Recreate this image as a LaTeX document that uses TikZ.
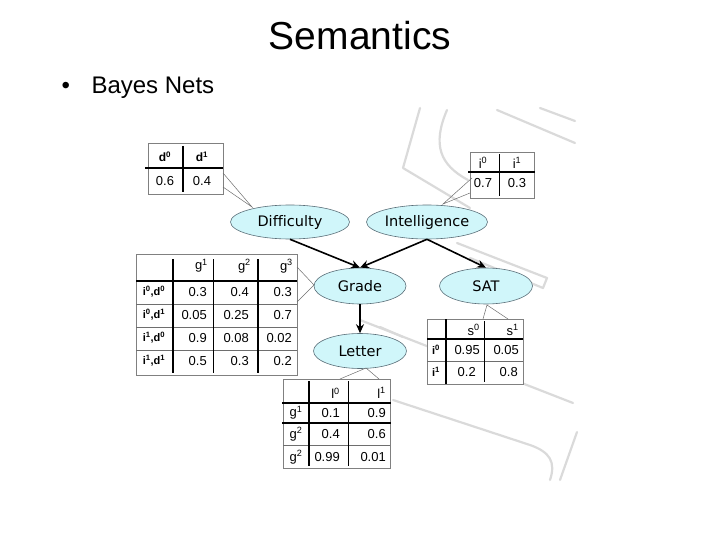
\documentclass[tikz,border=0pt]{standalone}
\usepackage{fontspec}
\setmainfont{Liberation Sans}
\newfontfamily\varfont[Ligatures=NoCommon]{DejaVu Sans}
\usetikzlibrary{shapes.geometric,arrows.meta}

\definecolor{varfill}{RGB}{208,246,250}
\definecolor{varline}{RGB}{90,110,120}
\definecolor{framegray}{RGB}{128,128,128}
\definecolor{rulegray}{RGB}{110,110,110}
\definecolor{wmgray}{RGB}{218,218,218}

\tikzset{
  var/.style={ellipse, draw=varline, line width=0.6pt, fill=varfill, inner sep=0pt,
    minimum width=119pt, minimum height=34pt, font=\varfont\fontsize{14.5}{16}\selectfont},
  dep/.style={line width=1.6pt, -{Stealth[length=9pt,width=8pt,inset=3pt]}},
  tframe/.style={draw=framegray, line width=0.7pt, fill=white},
  bar/.style={line width=1.8pt},
  thinrule/.style={draw=rulegray, line width=0.6pt},
  callout/.style={draw=rulegray, line width=0.5pt},
  cell/.style={font=\fontsize{13}{15}\selectfont, inner sep=0pt},
  rowlab/.style={font=\bfseries\fontsize{11}{13}\selectfont, inner sep=0pt},
  wm/.style={draw=wmgray, line width=2.2pt, line cap=round, line join=round},
}

\begin{document}
\begin{tikzpicture}[x=1pt,y=1pt,yscale=-1]
\useasboundingbox (0,0) rectangle (720,540);

% background watermark
\draw[wm] (420,108) -- (403,168) -- (470,208);
\draw[wm] (447,110) .. controls (432,145) and (440,165) .. (468,180);
\draw[wm] (497,110) -- (575,143);
\draw[wm] (540,108) -- (575,121);
\draw[wm] (457,243) -- (547,278) -- (543,288) -- (470,258);
\draw[wm] (380,327) -- (403,337);
\draw[wm] (360,320) -- (573,403);
\draw[wm] (393,400) -- (530,445) .. controls (550,452) and (556,462) .. (550,480);
\draw[wm] (577,432) -- (560,480);

% title
\node[font=\fontsize{39}{44}\selectfont, anchor=base] (title) at (360,50) {Semantics};
\node[font=\fontsize{24}{28}\selectfont, anchor=base west] (bullet) at (58,94) {•};
\node[font=\fontsize{24}{28}\selectfont, anchor=base west] (bayes) at (88,94) {Bayes Nets};

% variables
\node[var] (diff) at (290,222) {Difficulty};
\node[var, minimum width=121pt] (intel) at (427,222) {Intelligence};
\node[var, minimum width=92pt, minimum height=36pt] (grade) at (360,286) {Grade};
\node[var, minimum width=93pt, minimum height=36pt] (sat) at (486,286) {SAT};
\node[var, minimum width=93pt, minimum height=35pt] (letter) at (360,351) {Letter};

\draw[dep] (diff.south) -- (grade.north);
\draw[dep] (intel.south) -- (grade.north);
\draw[dep] (intel.south) -- (sat.north);
\draw[dep] (grade.south) -- (letter.north);

% P(D)
\draw[tframe] (148,143) rectangle (223,194);
\draw[bar] (145,168) -- (223,168);
\draw[bar] (183,146) -- (183,192);
\node[cell, font=\bfseries\fontsize{12}{14}\selectfont] (d0) at (165,157) {d\textsuperscript{0}};
\node[cell, font=\bfseries\fontsize{12}{14}\selectfont] (d1) at (202,157) {d\textsuperscript{1}};
\node[cell] (pd0) at (165,181) {0.6};
\node[cell] (pd1) at (202,181) {0.4};
\coordinate (dtip) at (252,207);
\draw[callout] (223,173) -- (dtip) -- (223,187);

% P(I)
\draw[tframe] (470,152) rectangle (534,198);
\draw[bar] (468,172) -- (535,172);
\draw[thick] (499,154) -- (499,196);
\node[cell] (i0) at (483,163) {i\textsuperscript{0}};
\node[cell] (i1) at (517,163) {i\textsuperscript{1}};
\node[cell] (pi0) at (483,183) {0.7};
\node[cell] (pi1) at (517,183) {0.3};
\coordinate (itip) at (443,204);
\draw[callout] (472,178) -- (itip) -- (470,193);

% P(G | I,D)
\draw[tframe] (136,254) rectangle (297,375);
\foreach \y in {304,327,350} \draw[thinrule] (136,\y) -- (297,\y);
\draw[bar] (136,281) -- (297,281);
\draw[bar] (173,259) -- (173,373);
\draw[thinrule, draw=black] (213,259) -- (213,373);
\draw[bar] (258,259) -- (258,373);
\foreach \x/\t [count=\c] in {208/1,251/2,293/3}
  \node[cell, anchor=east] (g\c) at (\x,266) {g\textsuperscript{\t}};
\foreach \y/\lab/\a/\b/\c [count=\r] in {
    292/{i\textsuperscript{0},d\textsuperscript{0}}/0.3/0.4/0.3,
    315/{i\textsuperscript{0},d\textsuperscript{1}}/0.05/0.25/0.7,
    338/{i\textsuperscript{1},d\textsuperscript{0}}/0.9/0.08/0.02,
    361/{i\textsuperscript{1},d\textsuperscript{1}}/0.5/0.3/0.2}{
  \node[rowlab] (gr\r) at (154,\y) {\lab};
  \node[cell, anchor=east] (ga\r) at (207,\y) {\a};
  \node[cell, anchor=east] (gb\r) at (249,\y) {\b};
  \node[cell, anchor=east] (gc\r) at (292,\y) {\c};
}
\coordinate (gtip) at (314,285);
\draw[callout] (297,267) -- (gtip) -- (297,302);

% P(S | I)
\draw[tframe] (427,319) rectangle (523,384);
\draw[bar] (427,339) -- (523,339);
\draw[thinrule] (427,361) -- (523,361);
\draw[bar] (446,319) -- (446,384);
\draw[thinrule, draw=black] (484,321) -- (484,382);
\node[cell, anchor=east] (s0) at (480,330) {s\textsuperscript{0}};
\node[cell, anchor=east] (s1) at (519,330) {s\textsuperscript{1}};
\node[rowlab] (si0) at (436,350) {i\textsuperscript{0}};
\node[rowlab] (si1) at (436,372) {i\textsuperscript{1}};
\node[cell, anchor=east] (ps00) at (480,350) {0.95};
\node[cell, anchor=east] (ps01) at (519,350) {0.05};
\node[cell, anchor=east] (ps10) at (476,372) {0.2};
\node[cell, anchor=east] (ps11) at (518,372) {0.8};
\coordinate (stip) at (487,305);
\draw[callout] (483,319) -- (stip) -- (508,319);

% P(L | G)
\draw[tframe] (283,379) rectangle (390,468);
\draw[bar] (282,403) -- (391,403);
\draw[bar] (282,423) -- (391,423);
\draw[thinrule] (283,445) -- (390,445);
\draw[bar] (309,381) -- (309,466);
\draw[thinrule, draw=black] (348,381) -- (348,466);
\node[cell, anchor=east] (l0) at (340,393) {l\textsuperscript{0}};
\node[cell, anchor=east] (l1) at (386,393) {l\textsuperscript{1}};
\foreach \y/\t/\a/\b [count=\r] in {413/1/0.1/0.9, 434/2/0.4/0.6, 457/2/0.99/0.01}{
  \node[cell] (lg\r) at (296,\y) {g\textsuperscript{\t}};
  \node[cell, anchor=east] (la\r) at (340,\y) {\a};
  \node[cell, anchor=east] (lb\r) at (386,\y) {\b};
}
\coordinate (ltip) at (366,368);
\draw[callout] (340,379) -- (ltip) -- (379,379);

\end{tikzpicture}
\end{document}
